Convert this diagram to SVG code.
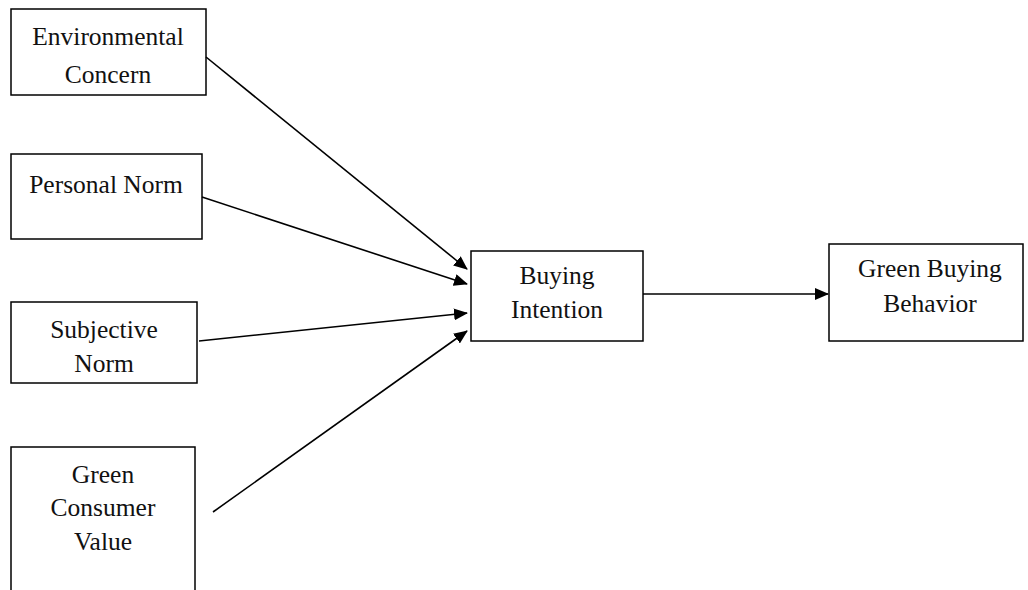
<svg xmlns="http://www.w3.org/2000/svg" width="1028" height="590" viewBox="0 0 1028 590">
<style>
.box{fill:#fff;stroke:#000;stroke-width:1.5}
.t{font-family:"Liberation Serif","Times New Roman",serif;font-size:25.5px;fill:#111;text-anchor:middle}
.c{stroke:#000;stroke-width:1.6;fill:none;marker-end:url(#ah)}
</style>
<defs>
<marker id="ah" markerWidth="14" markerHeight="12" refX="13" refY="6" orient="auto" markerUnits="userSpaceOnUse">
<path d="M0,0 L14,6 L0,12 Z" fill="#000"/>
</marker>
</defs>
<rect width="1028" height="590" fill="#fff"/>
<g id="n-env"><rect class="box" x="11" y="9" width="195" height="86"/><text class="t" x="108" y="45">Environmental</text><text class="t" x="108" y="83">Concern</text></g>
<g id="n-pn"><rect class="box" x="11" y="154" width="191" height="85"/><text class="t" x="106" y="193">Personal Norm</text></g>
<g id="n-sn"><rect class="box" x="11" y="302" width="186" height="81"/><text class="t" x="104" y="338">Subjective</text><text class="t" x="104" y="372">Norm</text></g>
<g id="n-gcv"><rect class="box" x="11" y="447" width="184" height="160"/><text class="t" x="103" y="483">Green</text><text class="t" x="103" y="516">Consumer</text><text class="t" x="103" y="550">Value</text></g>
<g id="n-bi"><rect class="box" x="471" y="251" width="172" height="90"/><text class="t" x="557" y="284">Buying</text><text class="t" x="557" y="318">Intention</text></g>
<g id="n-gbb"><rect class="box" x="829" y="244" width="194" height="97"/><text class="t" x="930" y="277">Green Buying</text><text class="t" x="930" y="312">Behavior</text></g>
<g id="connectors">
<line class="c" x1="206" y1="57" x2="467" y2="269"/>
<line class="c" x1="202" y1="197" x2="467" y2="284"/>
<line class="c" x1="199" y1="341" x2="467" y2="313"/>
<line class="c" x1="213" y1="512" x2="467" y2="331"/>
<line class="c" x1="643" y1="294" x2="828" y2="294"/>
</g>
</svg>
